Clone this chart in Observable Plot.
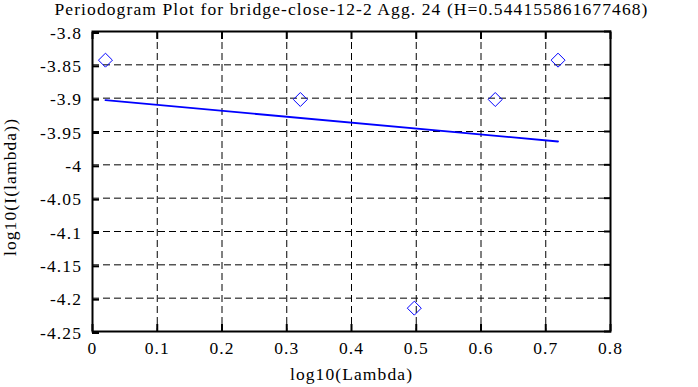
<!DOCTYPE html>
<html>
<head>
<meta charset="utf-8">
<script src="https://cdn.jsdelivr.net/npm/d3@7"></script>
<script src="https://cdn.jsdelivr.net/npm/@observablehq/plot@0.6"></script>
<style>
  html, body { margin: 0; padding: 0; background: #fff; }
  #chart svg, #chart svg text { font-family: "Liberation Serif", "Times New Roman", Times, serif !important; font-size: 17.5px; letter-spacing: 1.1px; }
</style>
</head>
<body>
<div id="chart"></div>
<script>
const titleText = "Periodogram Plot for bridge-close-12-2 Agg. 24 (H=0.544155861677468)";
const xLabel = "log10(Lambda)";
const yLabel = "log10(I(lambda))";

const lambda = [0.020, 0.321, 0.497, 0.622, 0.719];
const power = [-3.843, -3.902, -4.215, -3.902, -3.843];

const fitLambda = [0.020, 0.719];
const fitPower = [-3.903, -3.965];

const xTicks = [0, 0.1, 0.2, 0.3, 0.4, 0.5, 0.6, 0.7, 0.8];
const xTickLabels = ["0", "0.1", "0.2", "0.3", "0.4", "0.5", "0.6", "0.7", "0.8"];
const yTicks = [-3.8, -3.85, -3.9, -3.95, -4, -4.05, -4.1, -4.15, -4.2, -4.25];
const yTickLabels = ["-3.8", "-3.85", "-3.9", "-3.95", "-4", "-4.05", "-4.1", "-4.15", "-4.2", "-4.25"];

const points = lambda.map((x, i) => ({x, y: power[i]}));
const fit = fitLambda.map((x, i) => ({x, y: fitPower[i]}));
const xFmt = d => xTickLabels[xTicks.indexOf(d)];
const yFmt = d => yTickLabels[yTicks.indexOf(d)];

const plot = Plot.plot({
  width: 698,
  height: 387,
  marginLeft: 92,
  marginRight: 88,
  marginTop: 31,
  marginBottom: 56,
  style: {background: "#fff", color: "#000"},
  x: {domain: [0, 0.8]},
  y: {domain: [-4.25, -3.8]},
  marks: [
    Plot.gridX(xTicks.slice(1, -1), {stroke: "#000", strokeOpacity: 1, strokeWidth: 1, strokeDasharray: "7,4"}),
    Plot.gridY(yTicks.slice(1, -1), {stroke: "#000", strokeOpacity: 1, strokeWidth: 1, strokeDasharray: "7,4"}),
    Plot.line(fit, {x: "x", y: "y", stroke: "#0000ff", strokeWidth: 1.8}),
    Plot.dot(points, {x: "x", y: "y", symbol: "diamond2", r: 6.3, stroke: "#0000ff", strokeWidth: 1, fill: "none"}),
    Plot.frame({stroke: "#000", strokeWidth: 2}),
    Plot.axisX(xTicks, {anchor: "bottom", tickSize: -7, tickPadding: 17.5, strokeWidth: 2, tickFormat: xFmt, label: null}),
    Plot.axisX(xTicks, {anchor: "top", tickSize: -7, strokeWidth: 2, tickFormat: () => "", label: null}),
    Plot.axisY(yTicks, {anchor: "left", tickSize: -7, tickPadding: 17.5, dy: 1.5, strokeWidth: 2, tickFormat: yFmt, label: null}),
    Plot.axisY(yTicks, {anchor: "right", tickSize: -7, strokeWidth: 2, tickFormat: () => "", label: null}),
    Plot.text([titleText], {text: d => d, frameAnchor: "top", textAnchor: "middle", lineAnchor: "bottom", dy: -17, fill: "#000"}),
    Plot.text([xLabel], {text: d => d, frameAnchor: "bottom", textAnchor: "middle", lineAnchor: "bottom", dy: 48, fill: "#000"}),
    Plot.text([yLabel], {text: d => d, frameAnchor: "left", textAnchor: "middle", lineAnchor: "bottom", rotate: -90, dx: -77, dy: 5.5, fill: "#000"})
  ]
});
document.getElementById("chart").appendChild(plot);
</script>
</body>
</html>
